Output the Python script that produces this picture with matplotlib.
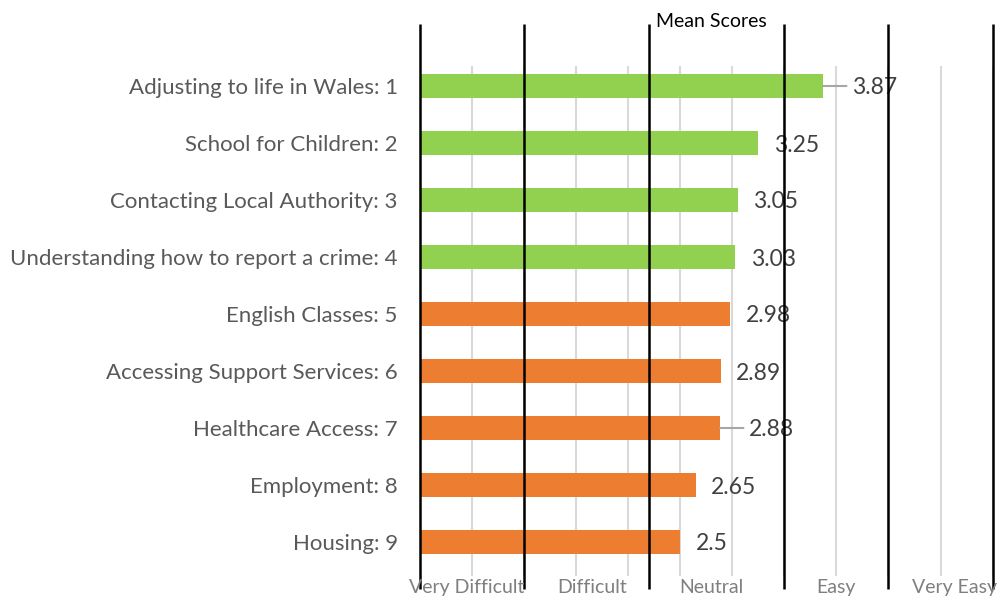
import matplotlib.pyplot as plt
import matplotlib.transforms as mtransforms
import numpy as np

plt.rcParams['font.family'] = ['Lato', 'DejaVu Sans']

# mean score per item, top to bottom
items = [
    "Adjusting to life in Wales: 1",
    "School for Children: 2",
    "Contacting Local Authority: 3",
    "Understanding how to report a crime: 4",
    "English Classes: 5",
    "Accessing Support Services: 6",
    "Healthcare Access: 7",
    "Employment: 8",
    "Housing: 9",
]
scores = [3.87, 3.25, 3.05, 3.03, 2.98, 2.89, 2.88, 2.65, 2.5]
groups = ["high", "high", "high", "high", "low", "low", "low", "low", "low"]

# rating bands drawn over the chart
band_edges = [0, 1.0, 2.2, 3.5, 4.5, 5.5]
band_names = ["Very Difficult", "Difficult", "Neutral", "Easy", "Very Easy"]
band_label_x = [0.45, 1.65, 2.8, 4.0, 5.13]

colors = {"high": "#92D050", "low": "#ED7D31"}

fig = plt.figure(figsize=(10.03, 5.99), dpi=100)
ax = fig.add_axes([420 / 1003, 1 - 570.5 / 599, 583 / 1003, 513 / 599])

y = np.arange(len(items))
ax.barh(y, scores, height=0.42, color=[colors[g] for g in groups], zorder=2)

ax.set_xlim(0, 5.6)
ax.set_ylim(len(items) - 0.5, -0.5)
ax.set_xticks([])
ax.tick_params(axis='both', length=0)
for s in ax.spines.values():
    s.set_visible(False)

trans = mtransforms.blended_transform_factory(ax.transData, ax.transAxes)

# light grid every half point
ax.vlines(np.arange(0.5, 5.6, 0.5), -0.011, 0.983, colors="#D9D9D9",
          linewidth=1.5, transform=trans, clip_on=False, zorder=0)

ax.set_yticks(y)
ax.set_yticklabels(items, fontsize=16, color="#595959")
ax.tick_params(axis='y', pad=16)

# value labels; two of them sit further out with a leader line
for i, v in enumerate(scores):
    dx = 11
    if i in (0, 6):
        dx = 21
        ax.annotate("", xy=(v, i), xytext=(17, 0), textcoords="offset points",
                    arrowprops=dict(arrowstyle="-", color="#A6A6A6", lw=1.5,
                                    shrinkA=0, shrinkB=0))
    ax.annotate(f"{v:g}", xy=(v, i), xytext=(dx, 0), textcoords="offset points",
                va="center_baseline", ha="left", fontsize=16.5, color="#404040")

ax.vlines(band_edges, -0.036, 1.065, colors="black", linewidth=1.8,
          transform=trans, clip_on=False, zorder=3)
for x, name in zip(band_label_x, band_names):
    ax.text(x, -0.034, name, transform=trans, ha="center", va="center",
            fontsize=14, color="#7F7F7F")

ax.text(2.8, 1.071, "Mean Scores", transform=trans, ha="center", va="center",
        fontsize=14, color="black")

fig.savefig("out.png", dpi=100)
